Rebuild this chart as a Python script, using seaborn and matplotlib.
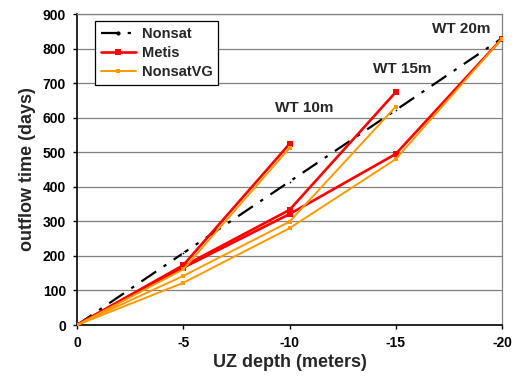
import matplotlib
matplotlib.use("Agg")
import matplotlib.pyplot as plt
import seaborn as sns
import pandas as pd
from matplotlib.lines import Line2D

# ---- data ----
depth_wt10 = [0, -5, -10]
depth_wt15 = [0, -5, -10, -15]
depth_wt20 = [0, -5, -10, -15, -20]

nonsat_depth = [0, -5, -10, -15, -20]
nonsat_time = [0, 208, 415, 622, 830]

metis_wt10 = [0, 173, 524]
metis_wt15 = [0, 170, 333, 674]
metis_wt20 = [0, 166, 321, 495, 829]

nonsatvg_wt10 = [0, 161, 512]
nonsatvg_wt15 = [0, 142, 299, 632]
nonsatvg_wt20 = [0, 122, 280, 480, 829]

x_ticks = [0, -5, -10, -15, -20]
x_tick_labels = ["0", "-5", "-10", "-15", "-20"]
y_ticks = [0, 100, 200, 300, 400, 500, 600, 700, 800, 900]

annotations = [("WT 10m", -10.68, 629), ("WT 15m", -15.29, 742), ("WT 20m", -18.07, 856)]

rows = []
for model, series in [("Metis", [metis_wt10, metis_wt15, metis_wt20]),
                      ("NonsatVG", [nonsatvg_wt10, nonsatvg_wt15, nonsatvg_wt20])]:
    for wt, depths, vals in zip(["10", "15", "20"], [depth_wt10, depth_wt15, depth_wt20], series):
        for d, v in zip(depths, vals):
            rows.append({"depth": d, "time": v, "model": model, "wt": wt})
df = pd.DataFrame(rows)
df_nonsat = pd.DataFrame({"depth": nonsat_depth, "time": nonsat_time})

# ---- style ----
sns.set_theme(style="white")
plt.rcParams["font.family"] = ["Liberation Sans", "DejaVu Sans"]
plt.rcParams["axes.unicode_minus"] = False

RED = "#FF0000"
ORANGE = "#FF9900"

fig = plt.figure(figsize=(5.15, 3.85), dpi=100)
ax = fig.add_axes([0.1495, 0.1558, 0.8253, 0.8078])

# gridlines
for yv in y_ticks:
    ax.axhline(yv, color="#808080", lw=0.9, zorder=0)

# Nonsat
sns.lineplot(data=df_nonsat, x="depth", y="time", ax=ax, color="black", lw=1.6,
             sort=False, estimator=None, legend=False, zorder=2)
ax.lines[-1].set_dashes([8, 4, 1.5, 4])
ax.lines[-1].set_marker("o")
ax.lines[-1].set_markersize(2)

# Metis
sns.lineplot(data=df[df.model == "Metis"], x="depth", y="time", units="wt",
             estimator=None, sort=False, ax=ax, color=RED, lw=1.9,
             marker="s", markersize=4, markeredgewidth=0, legend=False, zorder=3)
# NonsatVG
sns.lineplot(data=df[df.model == "NonsatVG"], x="depth", y="time", units="wt",
             estimator=None, sort=False, ax=ax, color=ORANGE, lw=1.4,
             marker="s", markersize=3.5, markeredgewidth=0, legend=False, zorder=4)

ax.set_xlim(0, -20)
ax.set_ylim(0, 900)
ax.set_xticks(x_ticks)
ax.set_xticklabels(x_tick_labels)
ax.set_yticks(y_ticks)
ax.tick_params(axis="both", labelsize=10, colors="black", length=3, width=1,
               direction="out", bottom=True, left=True, pad=5)
for lbl in ax.get_xticklabels() + ax.get_yticklabels():
    lbl.set_fontweight("bold")

ax.set_xlabel("UZ depth (meters)", fontsize=13, fontweight="bold", labelpad=3)
ax.set_ylabel("outflow time (days)", fontsize=13, fontweight="bold", labelpad=5)

for side in ["left", "bottom"]:
    ax.spines[side].set_color("black")
    ax.spines[side].set_linewidth(1.2)
for side in ["top", "right"]:
    ax.spines[side].set_color("#808080")
    ax.spines[side].set_linewidth(0.9)

for text, x, y in annotations:
    ax.text(x, y, text, ha="center", va="center", fontsize=11, fontweight="bold", zorder=5)

handles = [
    Line2D([], [], color="black", lw=1.6, dashes=[8, 4, 1.5, 4], marker="o", markersize=2),
    Line2D([], [], color=RED, lw=1.9, marker="s", markersize=4, markeredgewidth=0),
    Line2D([], [], color=ORANGE, lw=1.4, marker="s", markersize=3.5, markeredgewidth=0),
]
leg = ax.legend(handles, ["Nonsat", "Metis", "NonsatVG"], loc="upper left",
                bbox_to_anchor=(0.042, 0.977), prop={"weight": "bold", "size": 10.5},
                frameon=True, fancybox=False, edgecolor="black", framealpha=1,
                handlelength=2.4, borderpad=0.4, labelspacing=0.35, handletextpad=0.4,
                borderaxespad=0)
leg.get_frame().set_linewidth(0.9)
leg.set_zorder(10)

fig.savefig("out.png", dpi=100)
